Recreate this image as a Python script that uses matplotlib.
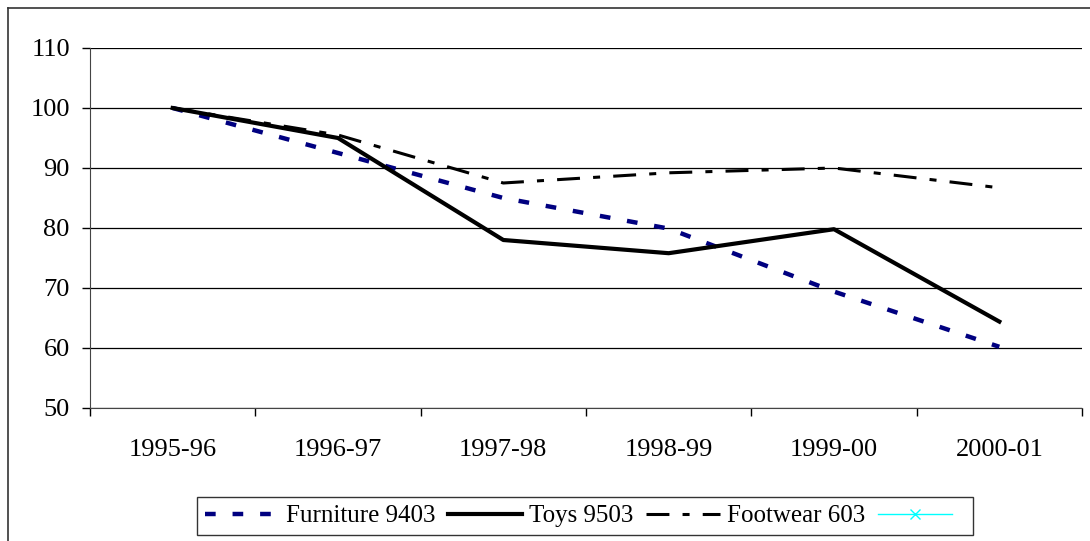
import numpy as np
import matplotlib.pyplot as plt
from matplotlib.lines import Line2D

plt.rcParams['font.family'] = ['Liberation Serif', 'DejaVu Serif']

years = ['1995-96', '1996-97', '1997-98', '1998-99', '1999-00', '2000-01']
furniture = [100, 92.5, 85, 79.9, 69.4, 60.2]
toys = [100, 95, 78, 75.8, 79.8, 64.4]
footwear = [100, 95.5, 87.5, 89.2, 90, 86.7]

fig = plt.figure(figsize=(10.9, 5.41), dpi=100)
ax = fig.add_axes([90/1090, 1-408/541, (1082-90)/1090, (408-48)/541])

x = np.arange(len(years))
ax.plot(x, furniture, color='#000080', lw=3.2, dashes=(2.4, 3.8), label='Furniture 9403')
ax.plot(x, toys, color='black', lw=3, label='Toys 9503')
ax.plot(x, footwear, color='black', lw=2.2, dashes=(7.5, 4.3, 2.3, 4.3), label='Footwear 603')
ax.plot([], [], color='cyan', lw=1, marker='x', markersize=7, label=' ')

ax.set_xlim(-0.5, len(years) - 0.5)
ax.set_ylim(50, 110)
ax.set_yticks(np.arange(50, 111, 10))
ax.set_xticks(x)
ax.set_xticklabels(years)
ax.set_xticks(np.arange(-0.5, len(years), 1), minor=True)
ax.tick_params(axis='x', which='major', length=0, pad=22, labelsize=19)
ax.tick_params(axis='x', which='minor', length=6, width=1)
ax.tick_params(axis='y', length=6, width=1, pad=8.5, labelsize=19)
ax.grid(axis='y', color='black', lw=0.9)
ax.set_axisbelow(True)
for s in ['top', 'right']:
    ax.spines[s].set_visible(False)
ax.spines['left'].set_color('#444444')
ax.spines['bottom'].set_color('#444444')

leg = ax.legend(loc='center', bbox_to_anchor=(585/1090, 1-516/541), bbox_transform=fig.transFigure,
                ncol=4, fontsize=18, frameon=True, fancybox=False, edgecolor='black',
                handlelength=2.95, handletextpad=0.3, columnspacing=0.5, borderpad=0.3)
leg.get_frame().set_linewidth(1)

# outer chart border
fig.add_artist(Line2D([8/1090, 8/1090], [0, 1-8/541], color='#333333', lw=1.2, transform=fig.transFigure))
fig.add_artist(Line2D([8/1090, 1], [1-8/541, 1-8/541], color='#333333', lw=1.2, transform=fig.transFigure))

fig.savefig('out.png', dpi=100)
